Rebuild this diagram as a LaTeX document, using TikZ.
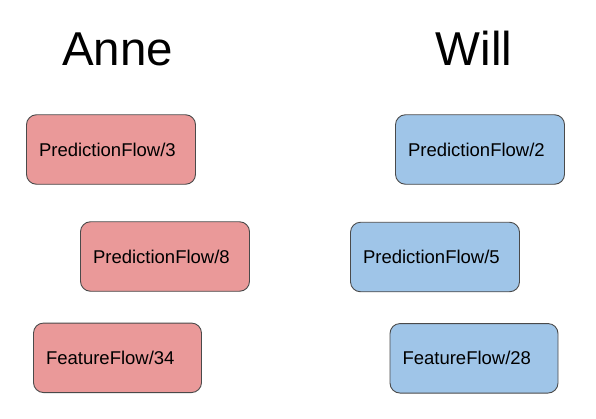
\documentclass[tikz,border=0pt]{standalone}
\usepackage{fontspec}
\setmainfont{Liberation Sans}
\definecolor{annered}{HTML}{EA9999}
\definecolor{willblue}{HTML}{9FC5E8}
\definecolor{edgegray}{HTML}{4A4A4A}
\begin{document}
\begin{tikzpicture}[x=1pt,y=-1pt,
  flowbox/.style={draw=edgegray, line width=0.9pt, rounded corners=10pt,
    minimum height=69.5pt, text width=#1-25pt, minimum width=#1, inner xsep=12.5pt,
    align=left, text height=13.3pt, text depth=0pt,
    font=\fontsize{18.5}{20}\selectfont},
  annebox/.style={flowbox=#1, fill=annered},
  willbox/.style={flowbox=#1, fill=willblue},
  title/.style={font=\fontsize{47.5}{50}\selectfont, anchor=base}]
\useasboundingbox (0,0) rectangle (596,418);
\node[title] (anne) at (117.5,65) {Anne};
\node[title] (will) at (474,65) {Will};
\node[annebox=169pt] (a1) at (111,149.5) {PredictionFlow/3};
\node[annebox=169pt] (a2) at (165,256.5) {PredictionFlow/8};
\node[annebox=168pt] (a3) at (117.5,357.8) {FeatureFlow/34};
\node[willbox=169pt] (w1) at (480,149.5) {PredictionFlow/2};
\node[willbox=169pt] (w2) at (435,257) {PredictionFlow/5};
\node[willbox=168pt] (w3) at (474,358.3) {FeatureFlow/28};
\end{tikzpicture}
\end{document}
